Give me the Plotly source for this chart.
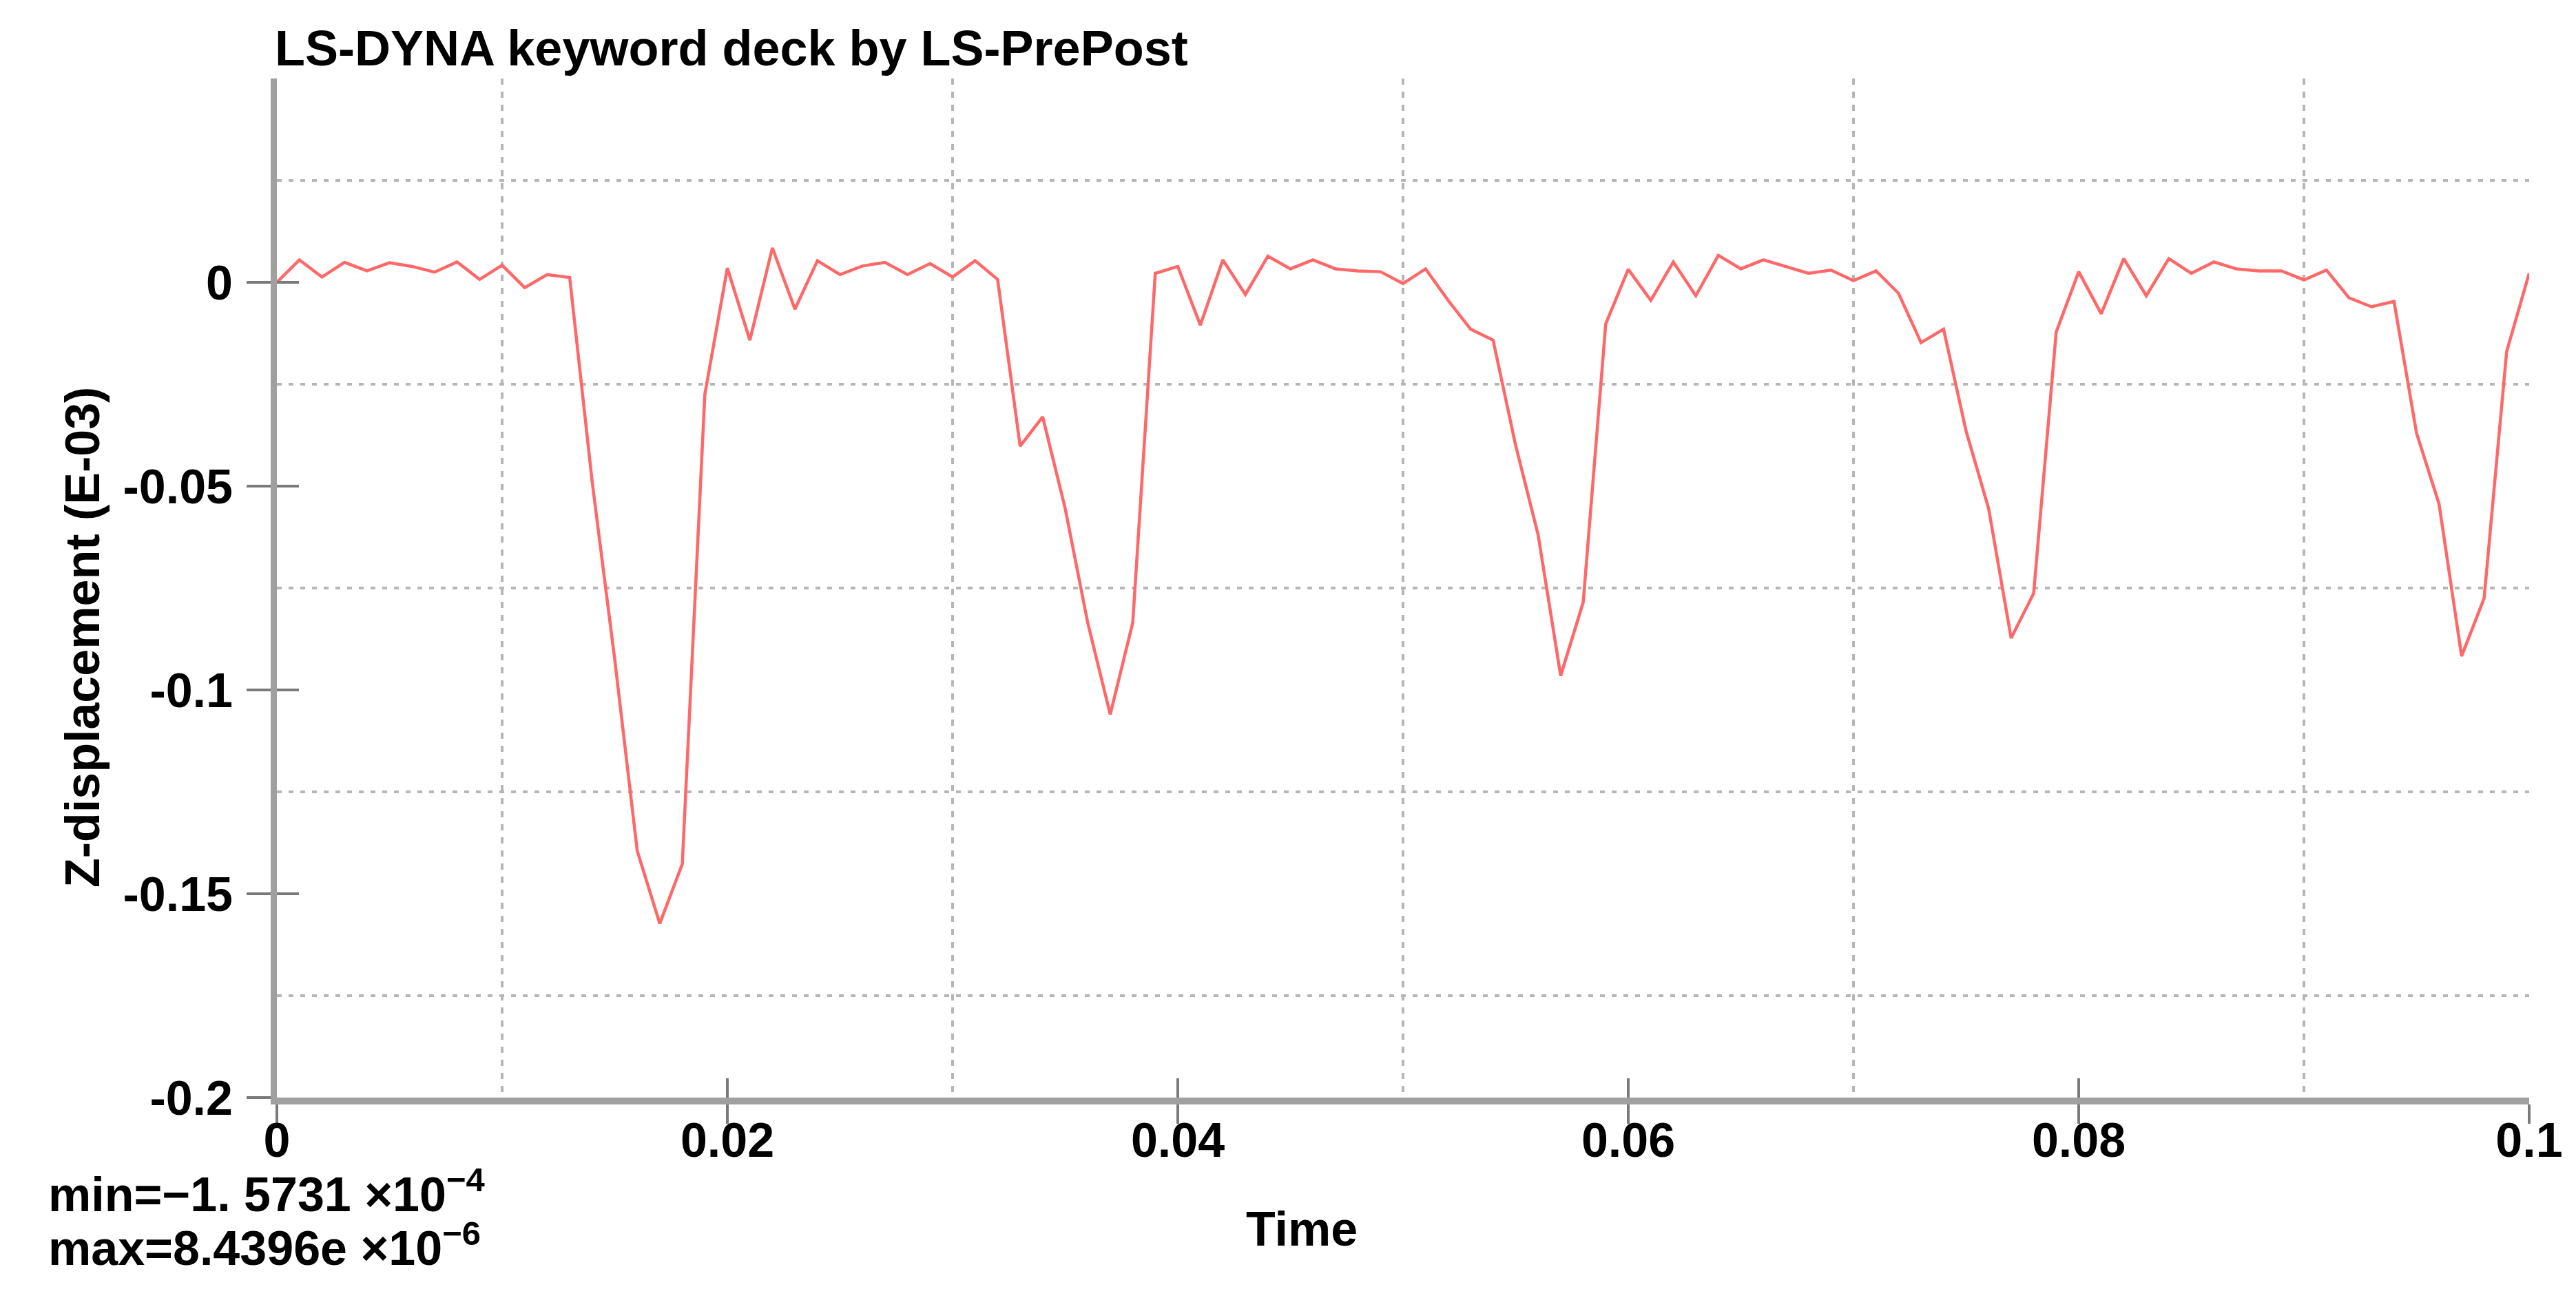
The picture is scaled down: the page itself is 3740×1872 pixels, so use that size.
import plotly.graph_objects as go

# sampling grid of the curve (s)
time = [round(i * 0.001, 3) for i in range(101)]

# z-displacement, in units of E-03
z_disp = [
    0.0, 0.0055, 0.0013, 0.0049, 0.0028, 0.0048, 0.0039, 0.0025, 0.0050, 0.0007,
    0.0042, -0.0013, 0.0019, 0.0012, -0.0490, -0.0925, -0.1395, -0.15731, -0.1427, -0.0275,
    0.0035, -0.0142, 0.0084396, -0.0066, 0.0053, 0.0019, 0.0040, 0.0049, 0.0019, 0.0046,
    0.0013, 0.0053, 0.0007, -0.0402, -0.0330, -0.0555, -0.0835, -0.1060, -0.0835, 0.0022,
    0.0039, -0.0105, 0.0055, -0.0030, 0.0064, 0.0033, 0.0055, 0.0033, 0.0028, 0.0026,
    -0.0003, 0.0033, -0.0044, -0.0115, -0.0142, -0.0400, -0.0620, -0.0965, -0.0785, -0.0102,
    0.0032, -0.0044, 0.0050, -0.0033, 0.0066, 0.0033, 0.0055, 0.0039, 0.0022, 0.0030,
    0.0004, 0.0028, -0.0027, -0.0148, -0.0115, -0.0365, -0.0555, -0.0873, -0.0763, -0.0122,
    0.0026, -0.0077, 0.0058, -0.0033, 0.0058, 0.0022, 0.0050, 0.0033, 0.0028, 0.0028,
    0.0006, 0.0030, -0.0038, -0.0060, -0.0047, -0.0370, -0.0544, -0.0917, -0.0775, -0.0170,
    0.0022,
]

x_ticks = [0, 0.02, 0.04, 0.06, 0.08, 0.1]
x_labels = ['0', '0.02', '0.04', '0.06', '0.08', '0.1']
x_grid = [0.01, 0.03, 0.05, 0.07, 0.09]

y_ticks = [0, -0.05, -0.1, -0.15, -0.2]
y_labels = ['0', '-0.05', '-0.1', '-0.15', '-0.2']
y_grid = [0.025, -0.025, -0.075, -0.125, -0.175]

W, H = 3740, 1872
L, R, T, B = 394, 76, 106, 286
FONT = 'Liberation Sans, Arial, sans-serif'


def px_x(px):
    return (px - L) / (W - L - R)


def px_y(py):
    return (H - B - py) / (H - T - B)


fig = go.Figure()

fig.add_trace(
    go.Scatter(
        x=time,
        y=z_disp,
        mode='lines',
        line=dict(color='#ff6868', width=4.5),
        hoverinfo='skip',
    )
)

# empty trace so the overlay axes (inner half of the crossing ticks) get drawn
fig.add_trace(go.Scatter(x=[], y=[], xaxis='x2', yaxis='y2', hoverinfo='skip'))

tick_font = dict(family=FONT, size=70, color='black', weight='bold')
grid_col = '#b6b6b6'

fig.update_layout(
    width=W,
    height=H,
    margin=dict(l=L, r=R, t=T, b=B),
    plot_bgcolor='white',
    paper_bgcolor='white',
    showlegend=False,
    xaxis=dict(
        range=[0, 0.1],
        tickmode='array',
        tickvals=x_ticks,
        ticktext=x_labels,
        ticks='outside',
        ticklen=28,
        tickwidth=4,
        tickcolor='#7a7a7a',
        tickfont=tick_font,
        ticklabelstandoff=-36,
        showline=True,
        linewidth=10,
        linecolor='#a0a0a0',
        showgrid=False,
        zeroline=False,
        minor=dict(tickmode='array', tickvals=x_grid, ticks='', showgrid=True,
                   gridcolor=grid_col, gridwidth=4, griddash='9px,10px'),
    ),
    yaxis=dict(
        range=[-0.2, 0.05],
        tickmode='array',
        tickvals=y_ticks,
        ticktext=y_labels,
        ticks='outside',
        ticklen=35,
        tickwidth=4,
        tickcolor='#7a7a7a',
        tickfont=tick_font,
        ticklabelstandoff=6,
        showline=True,
        linewidth=9,
        linecolor='#a0a0a0',
        showgrid=False,
        zeroline=False,
        minor=dict(tickmode='array', tickvals=y_grid, ticks='', showgrid=True,
                   gridcolor=grid_col, gridwidth=4, griddash='7px,10px'),
    ),
    xaxis2=dict(
        overlaying='x', anchor='y', side='bottom', range=[0, 0.1],
        tickmode='array', tickvals=x_ticks, ticks='inside', ticklen=28,
        tickwidth=4, tickcolor='#7a7a7a', showticklabels=False,
        showgrid=False, zeroline=False, showline=False,
    ),
    yaxis2=dict(
        overlaying='y', anchor='x', side='left', range=[-0.2, 0.05],
        tickmode='array', tickvals=y_ticks, ticks='inside', ticklen=32,
        tickwidth=4, tickcolor='#7a7a7a', showticklabels=False,
        showgrid=False, zeroline=False, showline=False,
    ),
)

text_font = dict(family=FONT, size=70, color='black')

fig.add_annotation(
    text='<b>LS-DYNA keyword deck by LS-PrePost</b>',
    xref='paper', yref='paper', x=px_x(389), y=px_y(62),
    xanchor='left', yanchor='middle', showarrow=False,
    font=dict(family=FONT, size=72, color='black'),
)
fig.add_annotation(
    text='<b>Z-displacement (E-03)</b>',
    xref='paper', yref='paper', x=px_x(112), y=px_y(918),
    xanchor='center', yanchor='middle', textangle=-90, showarrow=False,
    font=text_font,
)
fig.add_annotation(
    text='<b>Time</b>',
    xref='paper', yref='paper', x=px_x(1882), y=px_y(1777),
    xanchor='center', yanchor='middle', showarrow=False,
    font=text_font,
)
fig.add_annotation(
    text='<b>min=\u22121. 5731 \u00d710<sup>\u22124</sup></b>',
    xref='paper', yref='paper', x=px_x(60), y=px_y(1722),
    xanchor='left', yanchor='middle', showarrow=False,
    font=text_font,
)
fig.add_annotation(
    text='<b>max=8.4396e \u00d710<sup>\u22126</sup></b>',
    xref='paper', yref='paper', x=px_x(60), y=px_y(1800),
    xanchor='left', yanchor='middle', showarrow=False,
    font=text_font,
)

fig.write_html('out.html')
